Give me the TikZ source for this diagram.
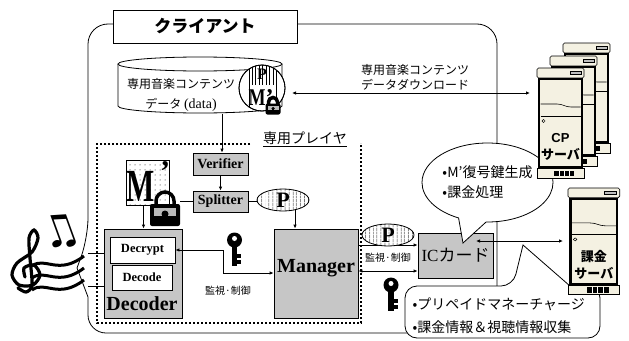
\documentclass[tikz,border=0pt]{standalone}
\usepackage{fontspec}
\usepackage{graphicx}
\setmainfont{Liberation Serif}
\setsansfont{Liberation Sans}
\newfontfamily\jpfont{Noto Sans CJK JP}
\newfontfamily\dejavu{DejaVu Sans}
\usetikzlibrary{arrows.meta,patterns.meta,shapes.geometric,shapes.callouts}

\newcommand\fsz[2]{\fontsize{#1}{#2}\selectfont}
\definecolor{svbeige}{RGB}{244,241,226}
\definecolor{stipple}{RGB}{198,198,198}

\tikzset{
  stroke/.style={line width=0.8pt},
  arr/.style={line width=0.8pt,-{Latex[length=4pt,width=3.5pt]}},
  twoway/.style={line width=0.8pt,{Latex[length=4pt,width=3.5pt]}-{Latex[length=4pt,width=3.5pt]}},
  stipplebox/.style={draw,line width=0.8pt,fill=stipple,inner sep=0pt},
  plainbox/.style={draw,line width=0.8pt,fill=white,inner sep=0pt},
  pellipse/.style={ellipse,draw,line width=0.8pt,inner sep=0pt,
    minimum width=52pt,minimum height=22pt,preaction={fill=white},
    pattern={Lines[angle=90,distance=4pt,line width=0.7pt]},
    font=\bfseries\fsz{22}{22}},
  jp/.style={font=\jpfont\fsz{#1}{#1}},
  % black padlock, origin at the middle of its body
  pics/padlock/.style={code={
    \draw[line width=3.5pt] (-9,-8) -- (-9,-12) arc[start angle=180,end angle=360,radius=9] -- (9,-8);
    \fill[rounded corners=2pt] (-15,-9) rectangle (15,13);
    \fill[gray!55] (-11,-5) rectangle (11,3);
    \fill (0,1) circle (3.5);
    \fill (-2,1) rectangle (2,11);
    \coordinate (-e) at (15,-9);
  }},
  % key, origin at the centre of its head
  pics/keyicon/.style={code={
    \fill (0,0) circle (7.5);
    \fill[white] (0,-1.5) circle (2.5);
    \fill (-2.6,4) rectangle (2.6,26);
    \fill (2.6,14) rectangle (6.5,17.5);
    \fill (2.6,20) rectangle (6.5,24);
  }},
  % tower server, origin top left, label from pic text
  pics/server/.style={code={
    \draw[line width=0.6pt,fill=svbeige] (0,100) rectangle (47,110);
    \fill (17,102.5) rectangle (37,108);
    \foreach \i in {22,27,32} \draw[white,line width=0.8pt] (\i,102.5) -- (\i,108);
    \draw[line width=0.6pt,fill=svbeige,rounded corners=1.5pt] (0,0) rectangle (47,10);
    \draw[line width=0.5pt,fill=gray!50] (33,3) rectangle (44,6.5);
    \draw[line width=2.4pt,fill=svbeige] (2.2,11.2) rectangle (44.8,98.8);
    \draw[line width=0.6pt] (3.5,36) -- (20,36) .. controls (26,36) and (28,39) .. (34,39) -- (43.5,39);
    \draw[line width=0.6pt] (3.5,48) -- (43.5,48);
    \draw[line width=0.5pt] (6.5,53) circle (1.6);
    \node[align=center,font=\bfseries\fsz{13}{17}] at (23.5,79) {\tikzpictext};
  }},
}

\begin{document}
\begin{tikzpicture}[x=1pt,y=-1pt]
\useasboundingbox (0,0) rectangle (629,340);

% client frame, open on the left towards the speakers
\draw[stroke,rounded corners=20pt] (497,300) -- (497,24) -- (88,24) -- (88,238)
  [sharp corners] -- (77,268) -- (88,297) [rounded corners=18pt] -- (88,333) -- (420,333);
\node[plainbox,minimum width=184pt,minimum height=33pt,font=\jpfont\bfseries\fsz{17}{17}] (client) at (205,26.5) {クライアント};

% content database
\draw[stroke,fill=white] (118,64) -- (118,106) arc[start angle=180,end angle=0,x radius=82,y radius=7] -- (282,64);
\draw[stroke,fill=white] (200,64) ellipse[x radius=82,y radius=7];
\node[font=\jpfont\fsz{12}{20},align=center] (data) at (181,95) {専用音楽コンテンツ\\データ {\rmfamily\fsz{14}{14}(data)}};
\coordinate (dbot) at (222,113.5);

% P + M' bundle
\draw[stroke,fill=white] (262,88) circle (23);
\begin{scope}
  \clip (262,88) circle (23);
  \fill[pattern={Lines[angle=90,distance=3.5pt,line width=0.6pt]}] (249,60) rectangle (276,84);
  \draw[line width=0.6pt] (249,60) rectangle (276,116);
\end{scope}
\draw[stroke] (262,88) circle (23);
\node[font=\bfseries\fsz{16}{16}] (pdata) at (262,74) {P};
\node[font=\bfseries\fsz{24}{24}] (mdata) at (261,98) {\scalebox{0.75}[1]{M}’};
\pic[scale=0.5] (lkB) at (273,108) {padlock};

% download
\coordinate (dl) at (292,93);
\coordinate (cpin) at (530,93);
\draw[twoway] (dl) -- (cpin);
\node[font=\jpfont\fsz{12}{15},align=center] (dltxt) at (415,77) {専用音楽コンテンツ\\データダウンロード};

% player
\draw[line width=2pt,dash pattern=on 2pt off 2pt] (250,144) -- (97,144) -- (97,323) -- (361,323) -- (361,143);
\node[jp=14] (player) at (305,139) {\underline{専用プレイヤ}};

\node[stipplebox,minimum width=55pt,minimum height=22pt,font=\bfseries\fsz{14}{14}] (ver) at (220.5,164) {Verifier};
\node[stipplebox,minimum width=55pt,minimum height=21pt,font=\bfseries\fsz{14}{14}] (spl) at (220.5,201.5) {Splitter};
\draw[arr] (dbot) -- (dbot |- ver.north);
\draw[arr] (ver) -- (spl);

\node[draw,line width=0.8pt,minimum width=43pt,minimum height=45pt,inner sep=0pt,preaction={fill=white},
  pattern={Dots[distance=5pt,radius=0.5pt]}] (mbox) at (147.5,182.5) {};
\node[font=\bfseries\fsz{46}{46}] (mtxt) at (141,186) {\scalebox{0.65}[1]{M}};
\node[font=\bfseries\fsz{30}{30}] (mprime) at (165,172) {’};
\pic (lkA) at (165,213) {padlock};
\draw[stroke] (spl.west) -- (spl.west -| lkA-e);

\node[pellipse] (pA) at (283,200) {P};
\draw[stroke] (spl.east) -- (spl.east -| pA.west);

\node[stipplebox,minimum width=78pt,minimum height=89pt] (dec) at (143,273.5) {};
\node[plainbox,minimum width=65pt,minimum height=26pt,font=\bfseries\fsz{12.5}{12.5}] (dcr) at (142.5,250) {Decrypt};
\node[plainbox,minimum width=60pt,minimum height=25pt,font=\bfseries\fsz{12.5}{12.5}] (dcd) at (142,277.5) {Decode};
\node[font=\bfseries\fsz{20}{20}] (dectxt) at (142,304) {Decoder};
\draw[arr] ([xshift=-4pt]mbox.south) -- ([xshift=-4pt]mbox.south |- dec.north);

% audio out to the speakers
\coordinate (outA) at (88,253);
\coordinate (outB) at (88,286);
\draw[stroke] (outA) -- (outA -| dec.west);
\draw[stroke] (outB) -- (outB -| dec.west);

\node[stipplebox,minimum width=84pt,minimum height=89pt] (mgr) at (316,273.5) {};
\node[font=\bfseries\fsz{20}{20}] (mgrtxt) at (316,268) {Manager};
\draw[arr] (pA.-40) -- (pA.-40 |- mgr.north);

\coordinate (turn) at (223,273);
\draw[twoway] (dcr.east) -| (turn) -- (turn -| mgr.west);
\pic (keyA) at (234.5,240) {keyicon};
\node[jp=10] (ctlA) at (228,291) {監視·制御};

% IC card
\node[stipplebox,minimum width=75pt,minimum height=45pt,font=\fsz{17}{17}] (ic) at (455.5,255.5) {IC{\jpfont カード}};
\coordinate (icA) at ([yshift=10.5pt]ic.west);
\coordinate (icB) at ([yshift=-15.5pt]ic.west);
\draw[arr] (icA -| mgr.east) -- (icA);
\draw[twoway] (icB -| mgr.east) -- (icB);
\node[pellipse] (pB) at (388,235) {P};
\node[jp=10] (ctlB) at (388,258) {監視·制御};
\pic (keyB) at (391,285) {keyicon};

\node[ellipse callout,draw,line width=0.8pt,fill=white,inner sep=0pt,minimum width=131pt,minimum height=79pt,
  callout absolute pointer={(463,243)},callout pointer arc=25,align=left,font=\jpfont\fsz{14}{20}] (icnote) at (487.5,182.5)
  {•M’復号鍵生成\\•課金処理};

% billing note
\draw[stroke,fill=white,rounded corners=12pt] (513,286) [sharp corners] -- (523,245) -- (570,286)
  [rounded corners=12pt] -- (600,286) -- (600,338) -- (405,338) -- (405,286) -- cycle;
\node[font=\jpfont\fsz{14}{23},align=left,anchor=west] (billnote) at (409,315.5) {•プリペイドマネーチャージ\\•課金情報＆視聴情報収集};

\coordinate (icport) at (476,241);
\coordinate (billin) at (563,241);
\draw[twoway] (icport) -- (billin);

% servers
\pic[pic text={}] (cpC) at (563,43) {server};
\pic[pic text={}] (cpB) at (550,56) {server};
\pic[pic text={{\sffamily CP}\\{\jpfont サーバ}}] (cpA) at (537,68) {server};
\pic[xscale=1.1,yscale=0.97,pic text={{\jpfont 課金}\\{\jpfont サーバ}}] (billsv) at (568,188) {server};

% speakers
\draw[line width=3.2pt,line cap=round] plot[smooth] coordinates {(18,288) (26,292) (32,285) (30,258) (29,238) (34,230) (38,238) (32,252) (17,263) (12,275) (19,285) (33,285) (40,275) (34,265) (24,268) (25,277)};
\node[font=\dejavu\fsz{44}{44},rotate=20] (notes) at (60,232) {♫};
\foreach \dy in {0,12,24}
  \draw[line width=3pt] (32,266+\dy) .. controls (45,256+\dy) and (58,276+\dy) .. (84,256+\dy);
\end{tikzpicture}
\end{document}
